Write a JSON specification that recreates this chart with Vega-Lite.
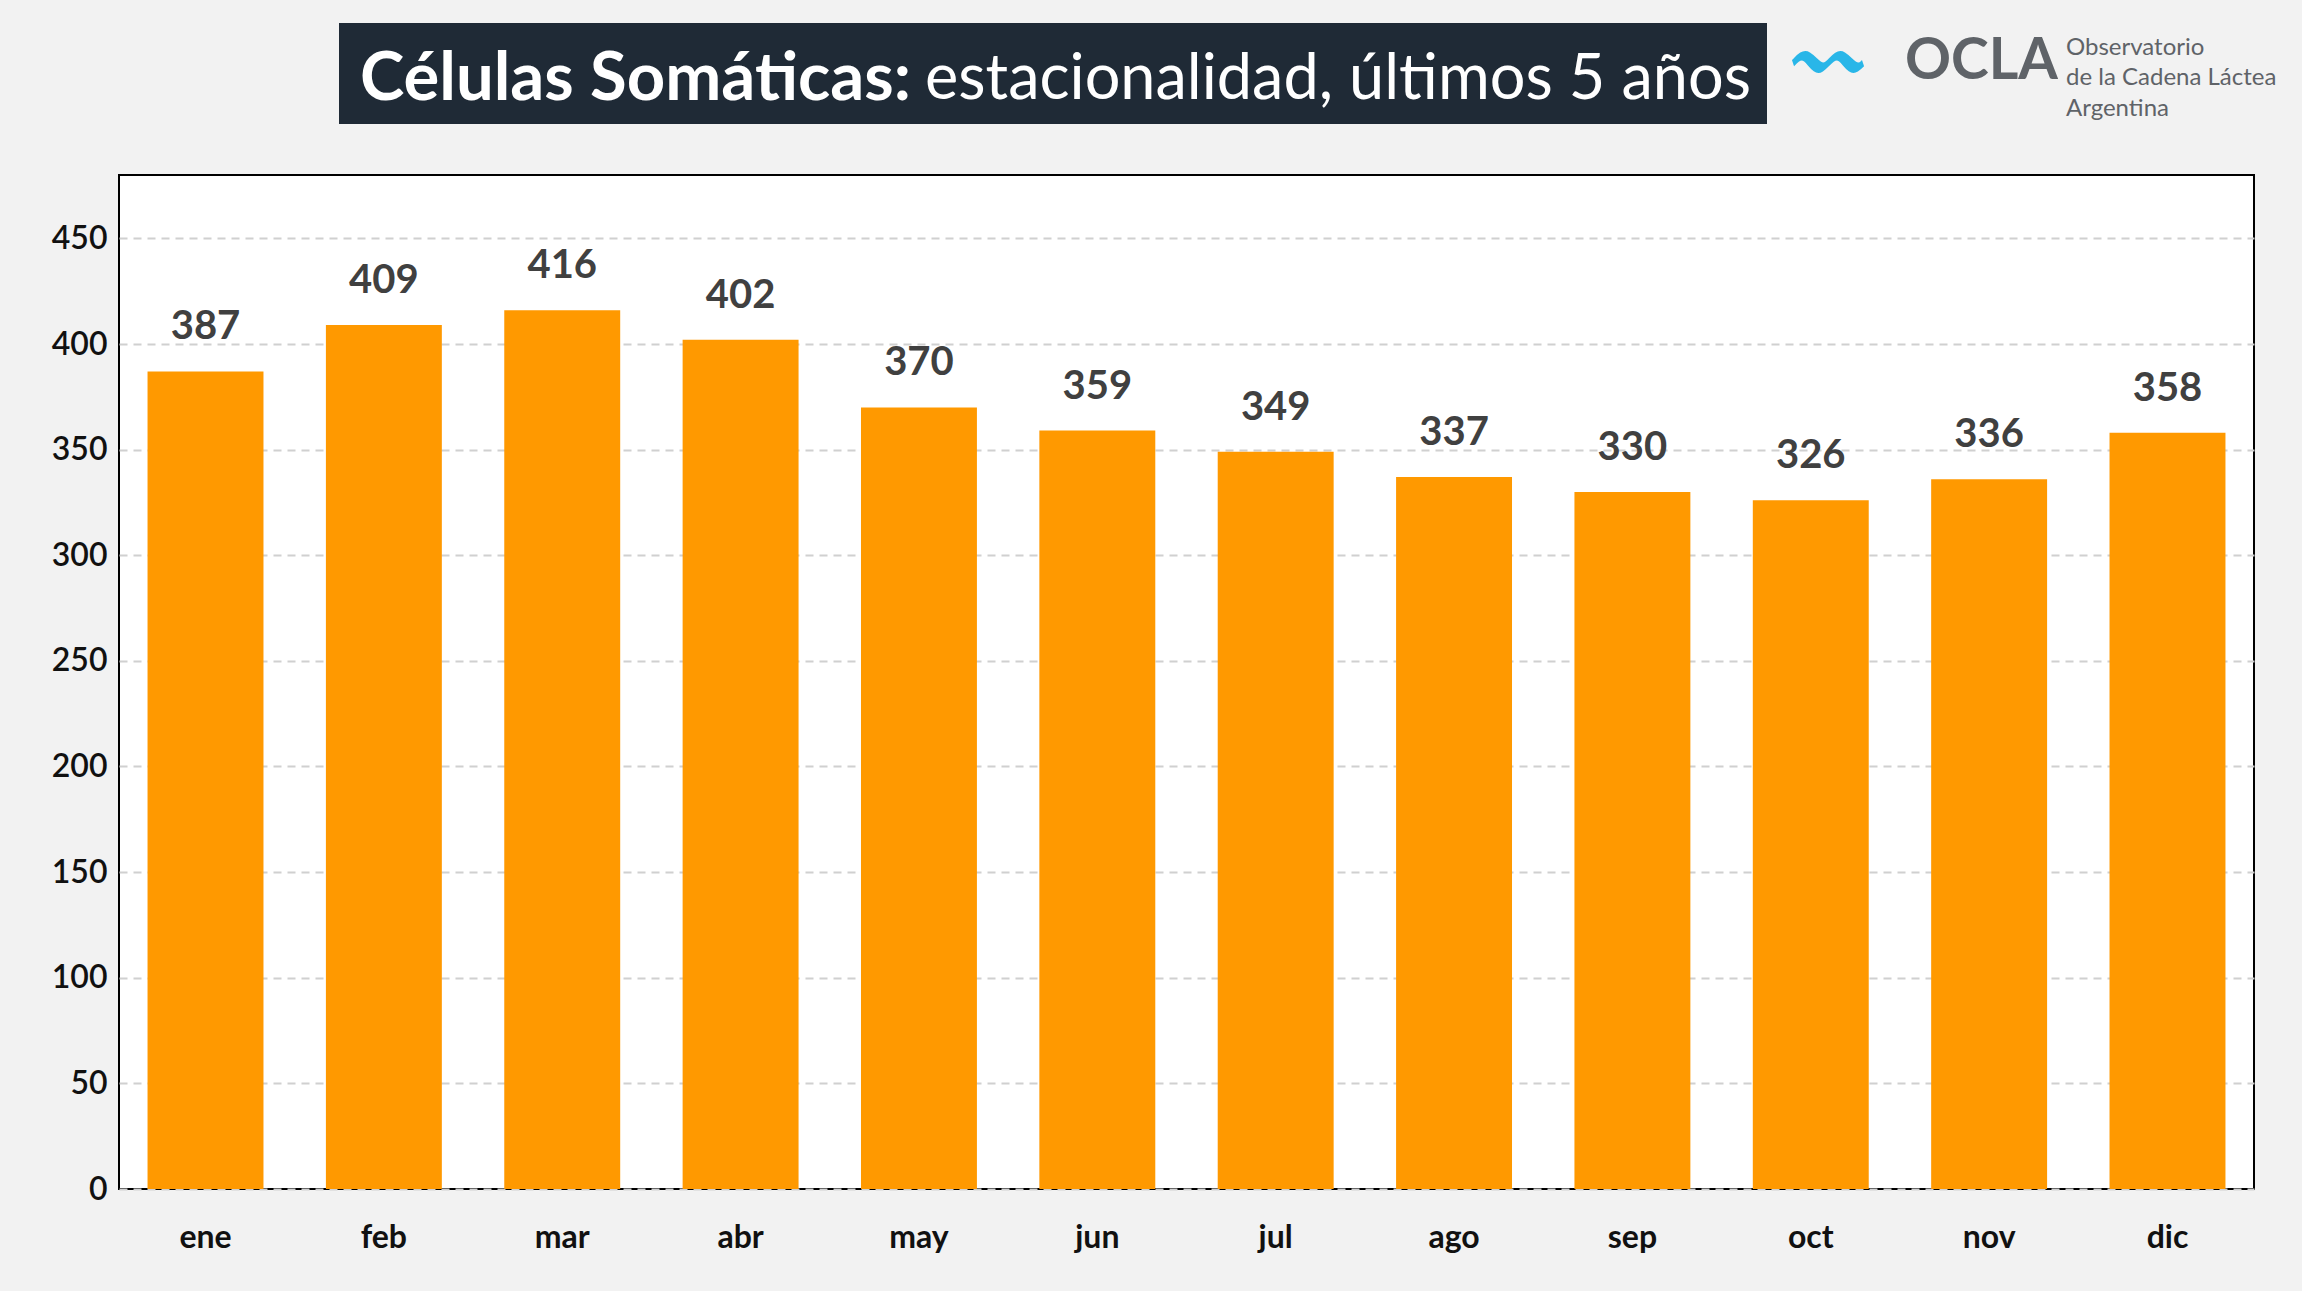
{
"$schema":"https://vega.github.io/schema/vega-lite/v6.json",
"background":"#f2f2f2",
"padding":{"left":50,"top":23,"right":20,"bottom":40},
"config":{"font":"Lato","view":{"stroke":null},"concat":{"spacing":0}},
"vconcat":[
 {"hconcat":[
  {"width":220,"height":101,"data":{"values":[{"t":""}]},"mark":{"type":"text"},"encoding":{"text":{"field":"t"}}},
  {"width":1428,"height":101,"view":{"fill":"#1f2a36","stroke":null},
   "data":{"values":[{"a":"Células Somáticas:","b":"estacionalidad,  últimos 5 años"}]},
   "layer":[
    {"mark":{"type":"text","align":"right","dx":-142,"dy":6,"font":"Lato","fontSize":67,"fontWeight":"bold","color":"white","baseline":"middle"},"encoding":{"text":{"field":"a"}}},
    {"mark":{"type":"text","align":"left","dx":-128,"dy":6,"font":"Lato","fontSize":63,"color":"white","baseline":"middle"},"encoding":{"text":{"field":"b"}}}
   ]},
  {"width":520,"height":101,"data":{"values":[{"o":"OCLA","l1":"Observatorio","l2":"de la Cadena Láctea","l3":"Argentina","w":"〰"}]},
   "layer":[
    {"mark":{"type":"text","align":"left","dx":-235,"dy":-12,"fontSize":70,"color":"#29b6e8","baseline":"middle"},"encoding":{"text":{"field":"w"}}},
    {"mark":{"type":"text","align":"left","dx":-123,"dy":-12,"fontSize":57,"fontWeight":"bold","color":"#5f6368","baseline":"middle"},"encoding":{"text":{"field":"o"}}},
    {"mark":{"type":"text","align":"left","dx":38,"dy":-26,"fontSize":24,"color":"#5f6368","baseline":"middle"},"encoding":{"text":{"field":"l1"}}},
    {"mark":{"type":"text","align":"left","dx":38,"dy":4,"fontSize":24,"color":"#5f6368","baseline":"middle"},"encoding":{"text":{"field":"l2"}}},
    {"mark":{"type":"text","align":"left","dx":38,"dy":35,"fontSize":24,"color":"#5f6368","baseline":"middle"},"encoding":{"text":{"field":"l3"}}}
   ]}
 ]},
 {"width":2135,"height":1014,"view":{"fill":"white","stroke":"black","strokeWidth":2},
  "data":{"values":[
   {"m":"ene","v":387},{"m":"feb","v":409},{"m":"mar","v":416},{"m":"abr","v":402},
   {"m":"may","v":370},{"m":"jun","v":359},{"m":"jul","v":349},{"m":"ago","v":337},
   {"m":"sep","v":330},{"m":"oct","v":326},{"m":"nov","v":336},{"m":"dic","v":358}]},
  "encoding":{
   "x":{"field":"m","type":"nominal","sort":null,"title":null,"scale":{"paddingInner":0.35,"paddingOuter":0.16},
        "axis":{"labelAngle":0,"labelFontSize":32,"labelFontWeight":"bold","labelColor":"#111","ticks":false,"domain":false,"labelPadding":33}},
   "y":{"field":"v","type":"quantitative","title":null,"scale":{"domain":[0,480],"nice":false},
        "axis":{"values":[0,50,100,150,200,250,300,350,400,450],"labelFontSize":32,"labelFontWeight":600,"labelColor":"#111","ticks":false,"domain":false,"labelPadding":12,
                "gridDash":[8,6],"gridColor":"#d0d0d0","gridWidth":2}}
  },
  "layer":[
   {"mark":{"type":"bar","color":"#ff9900"}},
   {"mark":{"type":"text","baseline":"bottom","dy":-24,"fontSize":40,"fontWeight":"bold","color":"#404040"},"encoding":{"text":{"field":"v"}}}
  ]}
],
"spacing":50
}
